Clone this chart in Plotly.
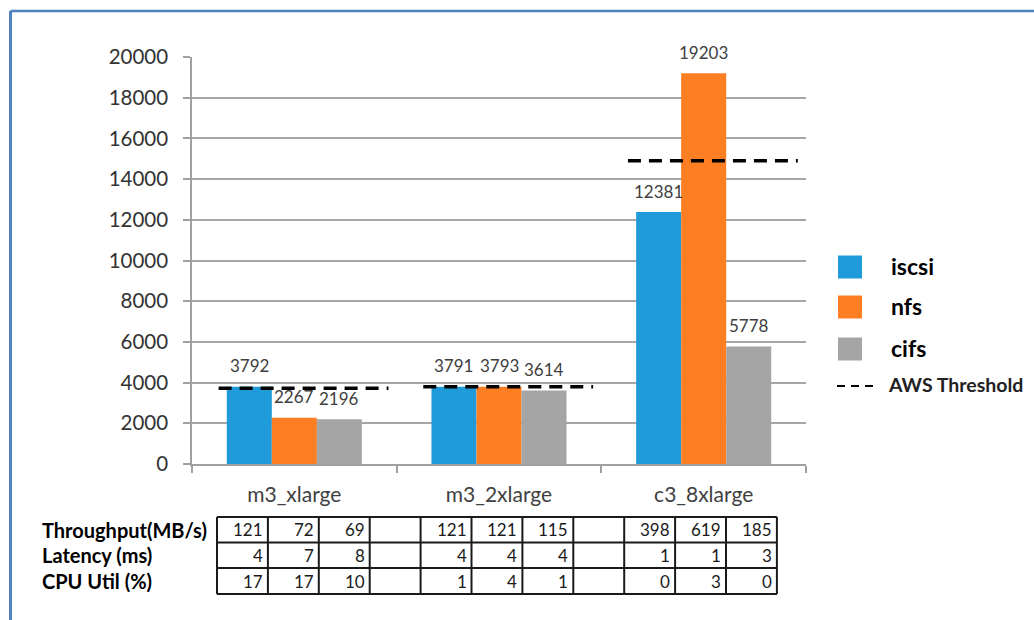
import plotly.graph_objects as go

# ---------------- data ----------------
categories = ["m3_xlarge", "m3_2xlarge", "c3_8xlarge"]
series_names = ["iscsi", "nfs", "cifs"]
iscsi = [3792, 3791, 12381]
nfs = [2267, 3793, 19203]
cifs = [2196, 3614, 5778]
aws_threshold = [3720, 3800, 14900]
threshold_name = "AWS Threshold"

row_labels = ["Throughput(MB/s)", "Latency (ms)", "CPU Util (%)"]
throughput = [[121, 72, 69], [121, 121, 115], [398, 619, 185]]
latency = [[4, 7, 8], [4, 4, 4], [1, 1, 3]]
cpu_util = [[17, 17, 10], [1, 4, 1], [0, 3, 0]]

y_ticks = [0, 2000, 4000, 6000, 8000, 10000, 12000, 14000, 16000, 18000, 20000]

# ---------------- style ----------------
colors = ["#1E9BD8", "#FD7E23", "#A5A5A5"]
FONT = "Lato"
W, H = 1034, 620
L, R, T, B = 192, 228, 57, 156
PW, PH = W - L - R, H - T - B
BARGAP = 0.34
BW = (1 - BARGAP) / 3  # bar width in category units


def px(x):
    return (x - L) / PW


def py(y):
    return (H - B - y) / PH


fig = go.Figure()
series_vals = [iscsi, nfs, cifs]
for name, vals, col in zip(series_names, series_vals, colors):
    fig.add_trace(go.Bar(x=categories, y=vals, name=name, marker_color=col,
                         marker_line_width=0, showlegend=False))

# value labels
annotations = []
for j, vals in enumerate(series_vals):
    for i, v in enumerate(vals):
        annotations.append(dict(x=i + (j - 1) * BW, y=v, xref="x2", yref="y",
                                text=str(v), showarrow=False, yshift=21,
                                font=dict(family=FONT, size=17, color="#404040")))

# threshold dashed lines
for i, t in enumerate(aws_threshold):
    fig.add_trace(go.Scatter(x=[i - 0.37, i + 0.46], y=[t, t], xaxis="x2", yaxis="y",
                             mode="lines", showlegend=False, hoverinfo="skip",
                             line=dict(color="black", width=3.5, dash="13px,8px")))

shapes = []
# outer border (top + left)
shapes.append(dict(type="line", xref="paper", yref="paper", x0=px(10.5), x1=px(W + 5),
                   y0=py(11), y1=py(11), line=dict(color="#4F81BD", width=2.5)))
shapes.append(dict(type="line", xref="paper", yref="paper", x0=px(10.5), x1=px(10.5),
                   y0=py(11), y1=py(H + 5), line=dict(color="#4F81BD", width=3)))

# ---------------- table ----------------
col_w = 50.9
tx0 = 217
row_tops = [517, 542.5, 568, 594]
n_cols = 4 * len(categories) - 1
col_edges = [tx0 + k * col_w for k in range(n_cols + 1)]
for yv in row_tops:
    shapes.append(dict(type="line", xref="paper", yref="paper", x0=px(col_edges[0]),
                       x1=px(col_edges[-1]), y0=py(yv), y1=py(yv),
                       line=dict(color="#1a1a1a", width=2)))
for xv in col_edges:
    shapes.append(dict(type="line", xref="paper", yref="paper", x0=px(xv), x1=px(xv),
                       y0=py(row_tops[0]), y1=py(row_tops[-1]),
                       line=dict(color="#1a1a1a", width=2)))

table_rows = [throughput, latency, cpu_util]
for r, (lab, rows) in enumerate(zip(row_labels, table_rows)):
    yc = (row_tops[r] + row_tops[r + 1]) / 2
    annotations.append(dict(x=px(40), y=py(yc), xref="paper", yref="paper",
                            xanchor="left", yanchor="middle", text="<b>%s</b>" % lab,
                            showarrow=False, font=dict(family=FONT, size=20, color="black")))
    for g, grp in enumerate(rows):
        for j, v in enumerate(grp):
            k = g * 4 + j
            annotations.append(dict(x=px(col_edges[k + 1] - 3), y=py(yc), xref="paper",
                                    yref="paper", xanchor="right", yanchor="middle",
                                    text=str(v), showarrow=False,
                                    font=dict(family=FONT, size=17, color="#1a1a1a")))

# ---------------- legend (manual) ----------------
leg_y = [267, 307, 349]
for name, col, yc in zip(series_names, colors, leg_y):
    shapes.append(dict(type="rect", xref="paper", yref="paper", x0=px(838), x1=px(862),
                       y0=py(yc - 11.5), y1=py(yc + 11.5), fillcolor=col, line_width=0))
    annotations.append(dict(x=px(889), y=py(yc - 1), xref="paper", yref="paper",
                            xanchor="left", yanchor="middle", text="<b>%s</b>" % name,
                            showarrow=False, font=dict(family=FONT, size=23, color="black")))
shapes.append(dict(type="line", xref="paper", yref="paper", x0=px(837), x1=px(873),
                   y0=py(386), y1=py(386),
                   line=dict(color="black", width=2, dash="8px,6px")))
annotations.append(dict(x=px(886), y=py(384), xref="paper", yref="paper",
                        xanchor="left", yanchor="middle", text="<b>%s</b>" % threshold_name,
                        showarrow=False, font=dict(family=FONT, size=19.5, color="#222")))

fig.update_layout(
    width=W, height=H,
    margin=dict(l=L, r=R, t=T, b=B, pad=0),
    paper_bgcolor="white", plot_bgcolor="white",
    barmode="group", bargap=BARGAP, bargroupgap=0,
    showlegend=False,
    font=dict(family=FONT, color="#404040"),
    xaxis=dict(type="category", showgrid=False, showline=True, linecolor="#a0a0a0",
               linewidth=1.5, ticks="outside", tickson="boundaries", ticklen=7,
               tickcolor="#a0a0a0", tickwidth=1.5,
               tickfont=dict(family=FONT, size=21, color="#404040"),
               ticklabelstandoff=11),
    xaxis2=dict(overlaying="x", range=[-0.5, 2.5], visible=False, fixedrange=True),
    yaxis=dict(range=[0, 20000], tickvals=y_ticks, tickformat="d",
               showgrid=True, gridcolor="#a6a6a6", gridwidth=1.5,
               showline=True, linecolor="#a0a0a0", linewidth=1.5,
               ticks="outside", ticklen=7, tickcolor="#a0a0a0", tickwidth=1.5,
               tickfont=dict(family=FONT, size=20.5, color="#333"),
               ticklabelstandoff=11, zeroline=False),
    shapes=shapes,
    annotations=annotations,
)

fig.write_html("out.html")
